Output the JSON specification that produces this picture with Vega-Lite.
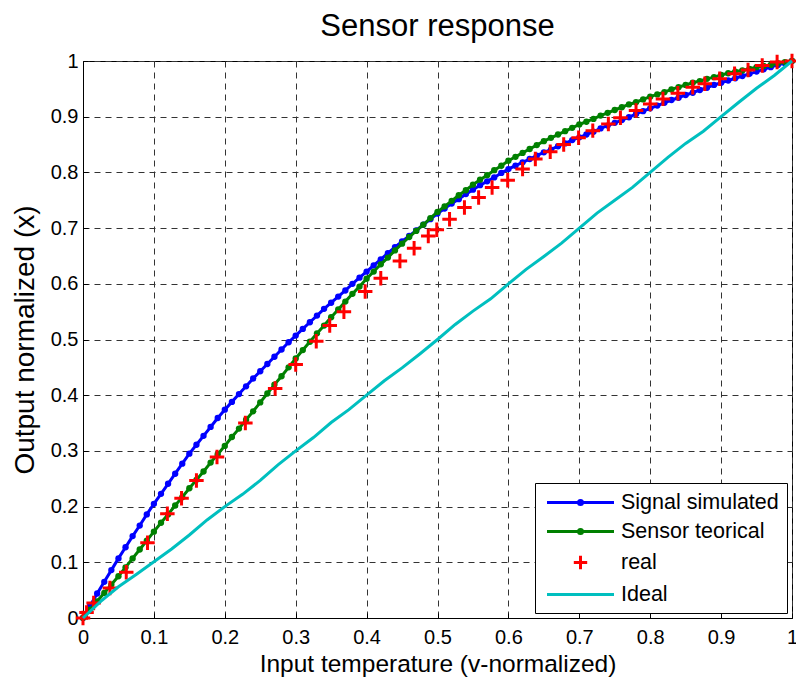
{
  "$schema": "https://vega.github.io/schema/vega-lite/v6.json",
  "autosize": "none",
  "width": 709,
  "height": 557,
  "padding": {"left": 83, "top": 61, "right": 4, "bottom": 64},
  "background": "white",
  "title": {"text": "Sensor response", "fontSize": 31, "font": "Liberation Sans", "fontWeight": "normal", "color": "black", "anchor": "middle", "baseline": "bottom", "offset": 6, "dy": 32},
  "config": {
    "view": {"stroke": "black", "strokeWidth": 1},
    "axis": {"labelFont": "Liberation Sans", "labelFontSize": 20, "labelColor": "black", "titleFont": "Liberation Sans", "titleFontSize": 24.5, "titleFontWeight": "normal", "titleColor": "black", "domainColor": "black", "tickColor": "black", "gridColor": "#333333", "gridDash": [6, 5], "gridOpacity": 1, "gridWidth": 1, "labelFlush": false, "labelOverlap": false, "tickSize": -5},
    "legend": {"labelFont": "Liberation Sans", "labelFontSize": 21.5, "labelColor": "black"}
  },
  "datasets": {
    "curves": [
      {"x":0,"b":0,"g":0},{"x":0.01,"b":0.022,"g":0.015},{"x":0.02,"b":0.044,"g":0.030},{"x":0.03,"b":0.065,"g":0.045},{"x":0.04,"b":0.086,"g":0.060},{"x":0.05,"b":0.107,"g":0.075},{"x":0.06,"b":0.127,"g":0.091},{"x":0.07,"b":0.147,"g":0.107},{"x":0.08,"b":0.166,"g":0.123},{"x":0.09,"b":0.186,"g":0.139},{"x":0.10,"b":0.205,"g":0.155},
      {"x":0.11,"b":0.223,"g":0.171},{"x":0.12,"b":0.241,"g":0.186},{"x":0.13,"b":0.259,"g":0.202},{"x":0.14,"b":0.277,"g":0.217},{"x":0.15,"b":0.295,"g":0.233},{"x":0.16,"b":0.311,"g":0.248},{"x":0.17,"b":0.327,"g":0.263},{"x":0.18,"b":0.343,"g":0.279},{"x":0.19,"b":0.359,"g":0.294},{"x":0.20,"b":0.374,"g":0.309},
      {"x":0.21,"b":0.388,"g":0.325},{"x":0.22,"b":0.402,"g":0.340},{"x":0.23,"b":0.416,"g":0.356},{"x":0.24,"b":0.430,"g":0.371},{"x":0.25,"b":0.443,"g":0.387},{"x":0.26,"b":0.456,"g":0.403},{"x":0.27,"b":0.469,"g":0.419},{"x":0.28,"b":0.482,"g":0.434},{"x":0.29,"b":0.495,"g":0.450},{"x":0.30,"b":0.507,"g":0.466},
      {"x":0.31,"b":0.519,"g":0.481},{"x":0.32,"b":0.531,"g":0.496},{"x":0.33,"b":0.543,"g":0.511},{"x":0.34,"b":0.555,"g":0.525},{"x":0.35,"b":0.566,"g":0.540},{"x":0.36,"b":0.577,"g":0.554},{"x":0.37,"b":0.588,"g":0.568},{"x":0.38,"b":0.600,"g":0.582},{"x":0.39,"b":0.611,"g":0.595},{"x":0.40,"b":0.622,"g":0.609},
      {"x":0.41,"b":0.633,"g":0.622},{"x":0.42,"b":0.644,"g":0.635},{"x":0.43,"b":0.655,"g":0.647},{"x":0.44,"b":0.666,"g":0.660},{"x":0.45,"b":0.676,"g":0.672},{"x":0.46,"b":0.686,"g":0.684},{"x":0.47,"b":0.696,"g":0.695},{"x":0.48,"b":0.706,"g":0.706},{"x":0.49,"b":0.716,"g":0.718},{"x":0.50,"b":0.726,"g":0.729},
      {"x":0.51,"b":0.735,"g":0.739},{"x":0.52,"b":0.744,"g":0.749},{"x":0.53,"b":0.752,"g":0.759},{"x":0.54,"b":0.761,"g":0.768},{"x":0.55,"b":0.769,"g":0.778},{"x":0.56,"b":0.777,"g":0.787},{"x":0.57,"b":0.784,"g":0.795},{"x":0.58,"b":0.791,"g":0.804},{"x":0.59,"b":0.799,"g":0.812},{"x":0.60,"b":0.806,"g":0.821},
      {"x":0.61,"b":0.812,"g":0.828},{"x":0.62,"b":0.818,"g":0.835},{"x":0.63,"b":0.824,"g":0.842},{"x":0.64,"b":0.830,"g":0.849},{"x":0.65,"b":0.836,"g":0.856},{"x":0.66,"b":0.841,"g":0.862},{"x":0.67,"b":0.847,"g":0.868},{"x":0.68,"b":0.852,"g":0.874},{"x":0.69,"b":0.858,"g":0.880},{"x":0.70,"b":0.863,"g":0.886},
      {"x":0.71,"b":0.868,"g":0.891},{"x":0.72,"b":0.873,"g":0.896},{"x":0.73,"b":0.879,"g":0.902},{"x":0.74,"b":0.884,"g":0.907},{"x":0.75,"b":0.889,"g":0.912},{"x":0.76,"b":0.894,"g":0.917},{"x":0.77,"b":0.899,"g":0.922},{"x":0.78,"b":0.905,"g":0.926},{"x":0.79,"b":0.910,"g":0.931},{"x":0.80,"b":0.915,"g":0.936},
      {"x":0.81,"b":0.920,"g":0.940},{"x":0.82,"b":0.925,"g":0.944},{"x":0.83,"b":0.930,"g":0.949},{"x":0.84,"b":0.934,"g":0.953},{"x":0.85,"b":0.939,"g":0.957},{"x":0.86,"b":0.943,"g":0.961},{"x":0.87,"b":0.948,"g":0.964},{"x":0.88,"b":0.952,"g":0.968},{"x":0.89,"b":0.957,"g":0.971},{"x":0.90,"b":0.961,"g":0.975},
      {"x":0.91,"b":0.965,"g":0.978},{"x":0.92,"b":0.969,"g":0.981},{"x":0.93,"b":0.973,"g":0.983},{"x":0.94,"b":0.977,"g":0.986},{"x":0.95,"b":0.981,"g":0.989},{"x":0.96,"b":0.985,"g":0.991},{"x":0.97,"b":0.989,"g":0.993},{"x":0.98,"b":0.993,"g":0.996},{"x":0.99,"b":0.996,"g":0.998},{"x":1.00,"b":1.000,"g":1.000}
    ],
    "real": [
      {"x":0,"y":0},{"x":0.005,"y":0.01},{"x":0.015,"y":0.027},{"x":0.038,"y":0.054},{"x":0.061,"y":0.082},{"x":0.091,"y":0.135},{"x":0.119,"y":0.187},{"x":0.139,"y":0.215},{"x":0.16,"y":0.247},{"x":0.189,"y":0.289},{"x":0.229,"y":0.35},{"x":0.271,"y":0.412},{"x":0.3,"y":0.455},{"x":0.329,"y":0.497},{"x":0.348,"y":0.525},{"x":0.368,"y":0.55},{"x":0.398,"y":0.586},{"x":0.42,"y":0.61},{"x":0.447,"y":0.641},{"x":0.467,"y":0.664},{"x":0.487,"y":0.686},{"x":0.499,"y":0.697},{"x":0.517,"y":0.716},{"x":0.538,"y":0.737},{"x":0.558,"y":0.755},{"x":0.577,"y":0.773},{"x":0.599,"y":0.786},{"x":0.62,"y":0.806},{"x":0.638,"y":0.824},{"x":0.659,"y":0.837},{"x":0.678,"y":0.85},{"x":0.699,"y":0.862},{"x":0.719,"y":0.875},{"x":0.741,"y":0.887},{"x":0.758,"y":0.898},{"x":0.78,"y":0.911},{"x":0.8,"y":0.923},{"x":0.818,"y":0.932},{"x":0.839,"y":0.942},{"x":0.86,"y":0.953},{"x":0.877,"y":0.959},{"x":0.898,"y":0.968},{"x":0.919,"y":0.977},{"x":0.938,"y":0.984},{"x":0.958,"y":0.992},{"x":0.979,"y":0.998},{"x":1.0,"y":1.0}
    ],
    "ideal": [
      {"x":0,"y":0},{"x":0.025,"y":0.03},{"x":0.05,"y":0.056},{"x":0.075,"y":0.078},{"x":0.1,"y":0.101},{"x":0.125,"y":0.124},{"x":0.15,"y":0.149},{"x":0.175,"y":0.176},{"x":0.2,"y":0.2},{"x":0.225,"y":0.222},{"x":0.25,"y":0.247},{"x":0.275,"y":0.275},{"x":0.3,"y":0.3},{"x":0.325,"y":0.324},{"x":0.35,"y":0.351},{"x":0.375,"y":0.374},{"x":0.4,"y":0.4},{"x":0.425,"y":0.426},{"x":0.45,"y":0.449},{"x":0.475,"y":0.474},{"x":0.5,"y":0.5},{"x":0.525,"y":0.527},{"x":0.55,"y":0.551},{"x":0.575,"y":0.573},{"x":0.6,"y":0.6},{"x":0.625,"y":0.626},{"x":0.65,"y":0.649},{"x":0.675,"y":0.673},{"x":0.7,"y":0.7},{"x":0.725,"y":0.727},{"x":0.75,"y":0.75},{"x":0.775,"y":0.773},{"x":0.8,"y":0.8},{"x":0.825,"y":0.827},{"x":0.85,"y":0.852},{"x":0.875,"y":0.874},{"x":0.9,"y":0.9},{"x":0.925,"y":0.926},{"x":0.95,"y":0.951},{"x":0.975,"y":0.974},{"x":1,"y":1}
    ],
    "legendrows": [
      {"x":2,"y":2,"s":"Signal simulated"},{"x":2,"y":2,"s":"Sensor teorical"},{"x":2,"y":2,"s":"real"},{"x":2,"y":2,"s":"Ideal"}
    ]
  },
  "encoding": {
    "x": {"field": "x", "type": "quantitative", "scale": {"domain": [0, 1], "nice": false, "zero": false},
      "axis": {"title": "Input temperature (v-normalized)", "values": [0,0.1,0.2,0.3,0.4,0.5,0.6,0.7,0.8,0.9,1], "format": "~g", "labelPadding": 14, "titlePadding": 5}}
  },
  "layer": [
    {
      "data": {"name": "curves"},
      "mark": {"type": "line", "color": "#0000FF", "strokeWidth": 3},
      "encoding": {"y": {"field": "b", "type": "quantitative", "scale": {"domain": [0, 1], "nice": false, "zero": false},
        "axis": {"title": "Output normalized (x)", "titleFontSize": 28, "values": [0,0.1,0.2,0.3,0.4,0.5,0.6,0.7,0.8,0.9,1], "format": "~g", "labelPadding": 10, "titlePadding": 11}}}
    },
    {
      "data": {"name": "curves"},
      "mark": {"type": "point", "shape": "circle", "filled": true, "color": "#0000FF", "opacity": 1, "size": 40},
      "encoding": {"y": {"field": "b", "type": "quantitative"}}
    },
    {
      "data": {"name": "curves"},
      "mark": {"type": "line", "color": "#008000", "strokeWidth": 3},
      "encoding": {"y": {"field": "g", "type": "quantitative"}}
    },
    {
      "data": {"name": "curves"},
      "mark": {"type": "point", "shape": "circle", "filled": true, "color": "#008000", "opacity": 1, "size": 40},
      "encoding": {"y": {"field": "g", "type": "quantitative"}}
    },
    {
      "data": {"name": "real"},
      "mark": {"type": "point", "shape": "M-1,0H1M0,-1V1", "filled": false, "color": "#FF0000", "opacity": 1, "strokeWidth": 3, "size": 210},
      "encoding": {"y": {"field": "y", "type": "quantitative"}}
    },
    {
      "data": {"name": "ideal"},
      "mark": {"type": "line", "color": "#00BFBF", "strokeWidth": 3},
      "encoding": {"y": {"field": "y", "type": "quantitative"}}
    },
    {
      "data": {"name": "legendrows"},
      "mark": {"type": "point", "filled": false, "clip": true, "strokeWidth": 3, "opacity": 1},
      "encoding": {
        "y": {"field": "y", "type": "quantitative"},
        "color": {"field": "s", "type": "nominal", "scale": {"domain": ["Signal simulated", "Sensor teorical", "real", "Ideal"], "range": ["#0000FF", "#008000", "#FF0000", "#00BFBF"]},
          "legend": {"title": null, "orient": "bottom-right", "offset": 5, "fillColor": "white", "strokeColor": "black", "padding": 8, "symbolSize": 400, "symbolStrokeWidth": 3, "symbolOffset": 26, "labelOffset": 29, "rowPadding": 7}},
        "shape": {"field": "s", "type": "nominal", "scale": {"domain": ["Signal simulated", "Sensor teorical", "real", "Ideal"], "range": ["M-3.35,0H3.35M-0.2,0a0.2,0.2 0 1,0 0.4,0a0.2,0.2 0 1,0 -0.4,0", "M-3.35,0H3.35M-0.2,0a0.2,0.2 0 1,0 0.4,0a0.2,0.2 0 1,0 -0.4,0", "M-0.67,0H0.67M0,-0.67V0.67", "M-3.35,0H3.35"]},
          "legend": {"title": null, "orient": "bottom-right", "offset": 5, "fillColor": "white", "strokeColor": "black", "padding": 8, "symbolSize": 400, "symbolStrokeWidth": 3, "symbolOffset": 26, "labelOffset": 29, "rowPadding": 7}}
      }
    }
  ]
}
